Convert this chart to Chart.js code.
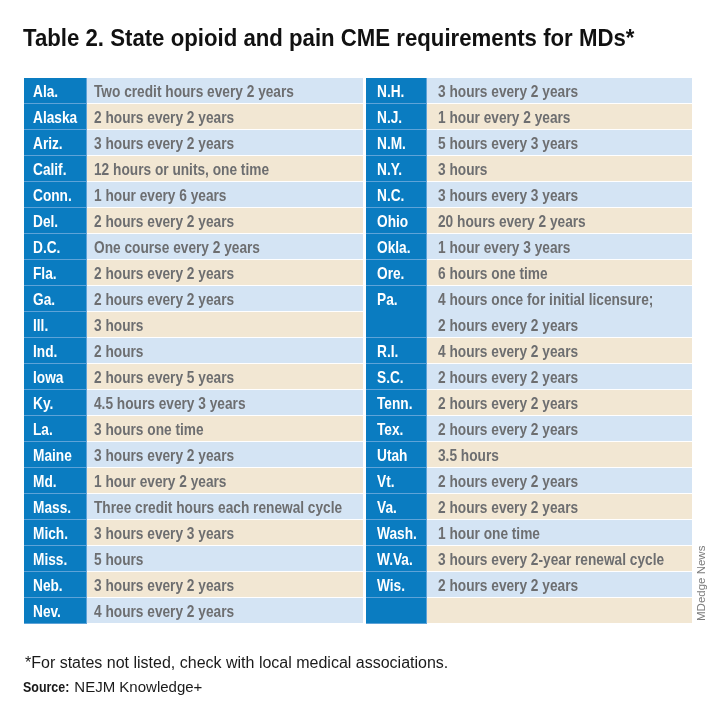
<!DOCTYPE html>
<html>
<head>
<meta charset="utf-8">
<script src="https://cdn.jsdelivr.net/npm/chart.js@4.4.1/dist/chart.umd.min.js"></script>
<style>
  html, body { margin: 0; padding: 0; background: #ffffff; }
  #wrap { position: relative; width: 720px; height: 720px; }
</style>
</head>
<body>
<div id="wrap"><canvas id="c" width="720" height="720"></canvas></div>
<script>
// ---------- DATA ----------
const titleText = 'Table 2. State opioid and pain CME requirements for MDs*';
const footnoteText = '*For states not listed, check with local medical associations.';
const sourceLabel = 'Source:';
const sourceText = 'NEJM Knowledge+';
const creditText = 'MDedge News';

const leftStates = ['Ala.','Alaska','Ariz.','Calif.','Conn.','Del.','D.C.','Fla.','Ga.','Ill.','Ind.','Iowa','Ky.','La.','Maine','Md.','Mass.','Mich.','Miss.','Neb.','Nev.'];
const leftReqs = ['Two credit hours every 2 years','2 hours every 2 years','3 hours every 2 years','12 hours or units, one time','1 hour every 6 years','2 hours every 2 years','One course every 2 years','2 hours every 2 years','2 hours every 2 years','3 hours','2 hours','2 hours every 5 years','4.5 hours every 3 years','3 hours one time','3 hours every 2 years','1 hour every 2 years','Three credit hours each renewal cycle','3 hours every 3 years','5 hours','3 hours every 2 years','4 hours every 2 years'];

// '' state with non-empty text = continuation line of the state above
const rightStates = ['N.H.','N.J.','N.M.','N.Y.','N.C.','Ohio','Okla.','Ore.','Pa.','','R.I.','S.C.','Tenn.','Tex.','Utah','Vt.','Va.','Wash.','W.Va.','Wis.',''];
const rightReqs = ['3 hours every 2 years','1 hour every 2 years','5 hours every 3 years','3 hours','3 hours every 3 years','20 hours every 2 years','1 hour every 3 years','6 hours one time','4 hours once for initial licensure;','2 hours every 2 years','4 hours every 2 years','2 hours every 2 years','2 hours every 2 years','2 hours every 2 years','3.5 hours','2 hours every 2 years','2 hours every 2 years','1 hour one time','3 hours every 2-year renewal cycle','2 hours every 2 years',''];

// ---------- LAYOUT / STYLE ----------
const COLS = { lState: [24, 87], lText: [87, 363], rState: [366, 427], rText: [427, 692] };
const TEXT_PAD = { lState: 9, lText: 7, rState: 11, rText: 11 };
const BLUE = '#0a7cc1';
const ROW_A = '#d4e4f4';
const ROW_B = '#f2e7d3';
const SANS = '"Liberation Sans", Arial, sans-serif';
const NARROW = 0.83; // horizontal squeeze to imitate a condensed face

const rowLabels = leftStates.map((_, i) => String(i + 1));

function isCont(states, reqs, i) { return states[i] === '' && reqs[i] !== '' && i > 0; }
function groupIndex(states, reqs) {
  const g = []; let k = -1;
  states.forEach((s, i) => { if (!isCont(states, reqs, i)) k++; g.push(k); });
  return g;
}
const leftGroups = groupIndex(leftStates, leftReqs);
const rightGroups = groupIndex(rightStates, rightReqs);
const mergedBelow = (states, reqs, i) => i + 1 < states.length && isCont(states, reqs, i + 1);

function cellDataset(col, groups, states, reqs, isState) {
  return {
    data: groups.map(() => COLS[col].slice()),
    backgroundColor: groups.map(g => isState ? BLUE : (g % 2 === 0 ? ROW_A : ROW_B)),
    borderColor: isState ? '#5ea3d8' : '#ffffff',
    borderWidth: groups.map((g, i) => ({ top: 0, left: 0, right: isState ? 1 : 0, bottom: mergedBelow(states, reqs, i) ? 0 : 1 })),
    borderSkipped: false,
    grouped: false,
    barPercentage: 1,
    categoryPercentage: 1,
    inflateAmount: 0
  };
}

function squeezedText(ctx, text, x, y, sx) {
  ctx.save();
  ctx.translate(x, y);
  ctx.scale(sx, 1);
  ctx.fillText(text, 0, 0);
  ctx.restore();
  return ctx.measureText(text).width * sx;
}

const tableText = {
  id: 'tableText',
  afterDatasetsDraw(chart) {
    const ctx = chart.ctx;
    const xs = chart.scales.x, ys = chart.scales.y;
    ctx.save();
    ctx.textBaseline = 'alphabetic';
    ctx.textAlign = 'left';
    const drawCol = (states, reqs, sCol, tCol) => {
      states.forEach((s, i) => {
        const y = ys.getPixelForValue(i) + 6;
        ctx.font = 'bold 16.5px ' + SANS;
        ctx.fillStyle = '#ffffff';
        if (s) squeezedText(ctx, s, xs.getPixelForValue(COLS[sCol][0]) + TEXT_PAD[sCol], y, NARROW);
        ctx.fillStyle = '#6d6e70';
        if (reqs[i]) squeezedText(ctx, reqs[i], xs.getPixelForValue(COLS[tCol][0]) + TEXT_PAD[tCol], y, NARROW);
      });
    };
    drawCol(leftStates, leftReqs, 'lState', 'lText');
    drawCol(rightStates, rightReqs, 'rState', 'rText');

    // title
    ctx.fillStyle = '#111111';
    ctx.font = 'bold 24px ' + SANS;
    squeezedText(ctx, titleText, 23, 46, 0.925);

    // footnotes
    ctx.font = '16px ' + SANS;
    ctx.fillStyle = '#1a1a1a';
    ctx.fillText(footnoteText, 25, 668);
    ctx.font = 'bold 15px ' + SANS;
    const w = squeezedText(ctx, sourceLabel, 23, 692, NARROW);
    ctx.font = '15px ' + SANS;
    ctx.fillText(sourceText, 23 + w + 5, 692);

    // credit
    ctx.save();
    ctx.translate(705, 621);
    ctx.rotate(-Math.PI / 2);
    ctx.font = '11.5px ' + SANS;
    ctx.fillStyle = '#7c7c7c';
    ctx.fillText(creditText, 0, 0);
    ctx.restore();
    ctx.restore();
  }
};

new Chart(document.getElementById('c'), {
  type: 'bar',
  data: {
    labels: rowLabels,
    datasets: [
      cellDataset('lState', leftGroups, leftStates, leftReqs, true),
      cellDataset('lText', leftGroups, leftStates, leftReqs, false),
      cellDataset('rState', rightGroups, rightStates, rightReqs, true),
      cellDataset('rText', rightGroups, rightStates, rightReqs, false)
    ]
  },
  options: {
    indexAxis: 'y',
    responsive: false,
    animation: false,
    events: [],
    layout: { padding: { top: 78, bottom: 96, left: 0, right: 0 } },
    scales: {
      x: { type: 'linear', min: 0, max: 720, display: false },
      y: { type: 'category', display: false, offset: true }
    },
    plugins: { legend: { display: false }, tooltip: { enabled: false }, title: { display: false } }
  },
  plugins: [tableText]
});
</script>
</body>
</html>
